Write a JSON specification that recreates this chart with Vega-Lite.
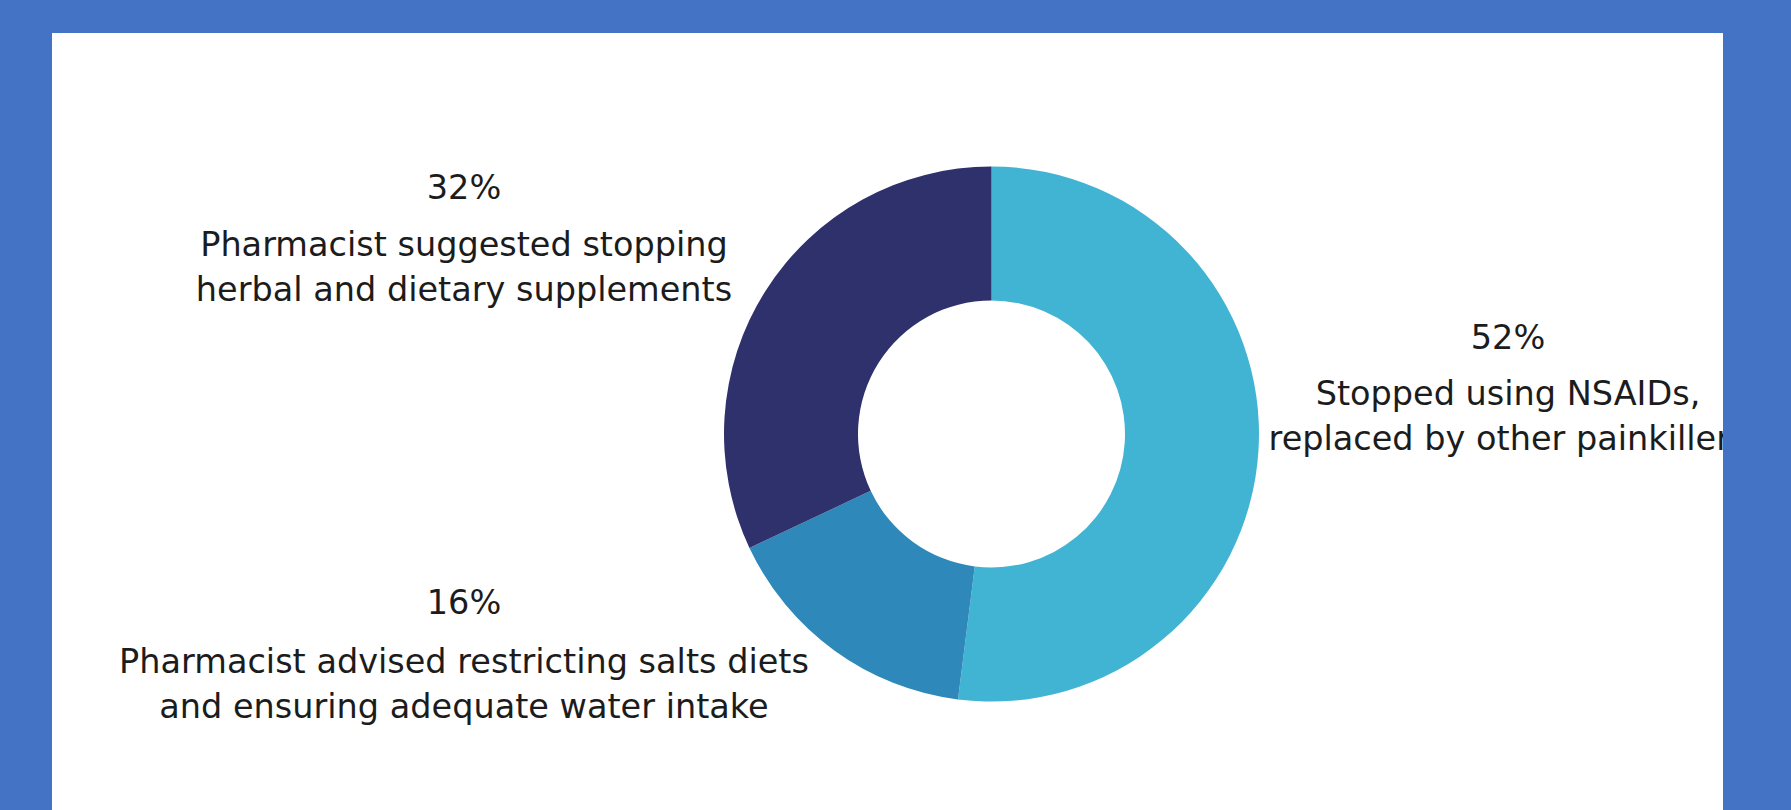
{
  "$schema": "https://vega.github.io/schema/vega-lite/v6.json",
  "width": 1671,
  "height": 777,
  "autosize": {"type": "none"},
  "padding": {"left": 52, "top": 33, "right": 68, "bottom": 0},
  "background": "#4472C4",
  "view": {"fill": "#ffffff", "stroke": null},
  "config": {
    "text": {"font": "DejaVu Sans", "fontSize": 33.5, "lineHeight": 45, "align": "center", "baseline": "middle", "lineBreak": "\n", "color": "#1c1c1c"}
  },
  "data": {
    "values": [
      {"category": "Stopped using NSAIDs, replaced by other painkillers", "value": 52, "rank": 1, "pct": "52%", "desc": "Stopped using NSAIDs,\nreplaced by other painkillers"},
      {"category": "Pharmacist advised restricting salts diets and ensuring adequate water intake", "value": 16, "rank": 2, "pct": "16%", "desc": "Pharmacist advised restricting salts diets\nand ensuring adequate water intake"},
      {"category": "Pharmacist suggested stopping herbal and dietary supplements", "value": 32, "rank": 3, "pct": "32%", "desc": "Pharmacist suggested stopping\nherbal and dietary supplements"}
    ]
  },
  "layer": [
    {
      "mark": {"type": "arc", "innerRadius": 133.5, "outerRadius": 267.5},
      "encoding": {
        "theta": {"field": "value", "type": "quantitative", "stack": true},
        "order": {"field": "rank", "type": "quantitative"},
        "color": {
          "field": "category",
          "type": "nominal",
          "scale": {
            "domain": [
              "Stopped using NSAIDs, replaced by other painkillers",
              "Pharmacist advised restricting salts diets and ensuring adequate water intake",
              "Pharmacist suggested stopping herbal and dietary supplements"
            ],
            "range": ["#42B4D3", "#2E88BA", "#2E316B"]
          },
          "legend": null
        },
        "x": {"datum": 939.5, "type": "quantitative", "scale": {"domain": [0, 1671], "nice": false, "zero": false}, "axis": null},
        "y": {"datum": 401, "type": "quantitative", "scale": {"domain": [0, 777], "reverse": true, "nice": false, "zero": false}, "axis": null}
      }
    },
    {
      "transform": [{"filter": "datum.rank == 1"}],
      "mark": {"type": "text", "clip": true},
      "encoding": {
        "text": {"field": "pct", "type": "nominal"},
        "x": {"datum": 1456, "type": "quantitative"},
        "y": {"datum": 306, "type": "quantitative"}
      }
    },
    {
      "transform": [{"filter": "datum.rank == 1"}],
      "mark": {"type": "text", "clip": true},
      "encoding": {
        "text": {"field": "desc", "type": "nominal"},
        "x": {"datum": 1456, "type": "quantitative"},
        "y": {"datum": 361.5, "type": "quantitative"}
      }
    },
    {
      "transform": [{"filter": "datum.rank == 3"}],
      "mark": {"type": "text", "clip": true},
      "encoding": {
        "text": {"field": "pct", "type": "nominal"},
        "x": {"datum": 412, "type": "quantitative"},
        "y": {"datum": 156, "type": "quantitative"}
      }
    },
    {
      "transform": [{"filter": "datum.rank == 3"}],
      "mark": {"type": "text", "clip": true},
      "encoding": {
        "text": {"field": "desc", "type": "nominal"},
        "x": {"datum": 412, "type": "quantitative"},
        "y": {"datum": 213, "type": "quantitative"}
      }
    },
    {
      "transform": [{"filter": "datum.rank == 2"}],
      "mark": {"type": "text", "clip": true},
      "encoding": {
        "text": {"field": "pct", "type": "nominal"},
        "x": {"datum": 412, "type": "quantitative"},
        "y": {"datum": 570.5, "type": "quantitative"}
      }
    },
    {
      "transform": [{"filter": "datum.rank == 2"}],
      "mark": {"type": "text", "clip": true},
      "encoding": {
        "text": {"field": "desc", "type": "nominal"},
        "x": {"datum": 412, "type": "quantitative"},
        "y": {"datum": 629.5, "type": "quantitative"}
      }
    }
  ]
}
